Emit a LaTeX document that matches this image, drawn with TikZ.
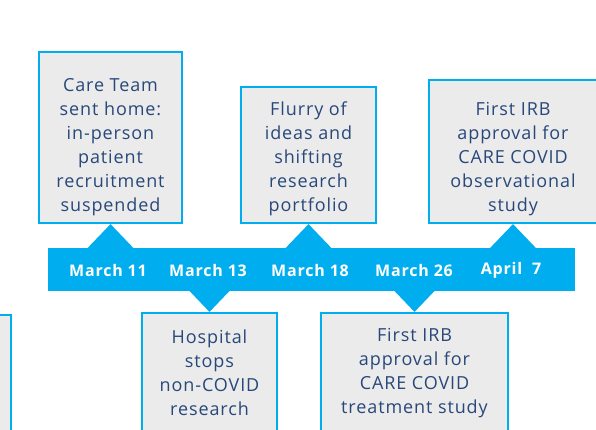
\documentclass[tikz,border=0pt]{standalone}
\usepackage{fontspec}
\setmainfont{Open Sans}[LetterSpace=5]
\usetikzlibrary{positioning}
\definecolor{CvCyan}{RGB}{0,174,239}
\definecolor{CvGray}{RGB}{235,235,235}
\definecolor{CvNavy}{RGB}{40,72,122}
\tikzset{
  cv/box/.style={
    draw=CvCyan,
    line width=2.2pt,
    fill=CvGray,
    inner sep=0pt
  },
  cv/text/.style={
    align=center,
    text=CvNavy,
    inner sep=0pt,
    font=\fontsize{18}{24}\selectfont
  },
  cv/band/.style={fill=CvCyan, inner sep=0pt},
  cv/date/.style={font=\fontsize{16}{20}\selectfont\bfseries, text=white},
  cv/pointer/.style={fill=CvCyan}
}
\begin{document}
\begin{tikzpicture}[x=1pt,y=-1pt]
  \useasboundingbox (0,0) rectangle (596,429);
  % events above the timeline
  \node[cv/box,minimum width=143pt,minimum height=171pt] (care) at (110.5,137.5) {};
  \node[cv/box,minimum width=135pt,minimum height=136pt] (flurry) at (308.5,155) {};
  \node[cv/box,minimum width=168pt,minimum height=143pt] (obs) at (513,151.5) {};
  \node[cv/text] (careTxt) at ([yshift=-10pt]care.center)
    {Care Team\\sent home:\\in-person\\patient\\recruitment\\suspended};
  \node[cv/text] (flurryTxt) at ([yshift=-4pt]flurry.center)
    {Flurry of\\ideas and\\shifting\\research\\portfolio};
  \node[cv/text] (obsTxt) at ([yshift=-8pt]obs.center)
    {First IRB\\approval for\\CARE COVID\\observational\\study};
  % events below the timeline
  \node[cv/box,minimum width=161pt,minimum height=130pt] (prev) at (-69.5,380) {};
  \node[cv/box,minimum width=135pt,minimum height=120pt] (hosp) at (209.5,373) {};
  \node[cv/box,minimum width=187pt,minimum height=120pt] (treat) at (414.5,373) {};
  \node[cv/text] (hospTxt) at (hosp.center)
    {Hospital\\stops\\non-COVID\\research};
  \node[cv/text] (treatTxt) at (treat.center)
    {First IRB\\approval for\\CARE COVID\\treatment study};
  % timeline
  \node[cv/band,minimum width=527pt,minimum height=43pt] (band) at (311.5,269.5) {};
  \fill[cv/pointer] (care.south) -- ++(23,24) -- ++(-46,0) -- cycle;
  \fill[cv/pointer] (flurry.south) -- ++(23,24) -- ++(-46,0) -- cycle;
  \fill[cv/pointer] (obs.south) -- ++(23,24) -- ++(-46,0) -- cycle;
  \fill[cv/pointer] (hosp.north) -- ++(22,-23) -- ++(-44,0) -- cycle;
  \fill[cv/pointer] (treat.north) -- ++(22,-23) -- ++(-44,0) -- cycle;
  \node[cv/date] (d1) at (108,270) {March 11};
  \node[cv/date] (d2) at (208,270) {March 13};
  \node[cv/date] (d3) at (310,270) {March 18};
  \node[cv/date] (d4) at (414,270) {March 26};
  \node[cv/date] (d5) at (511,270) {April~~7};
\end{tikzpicture}
\end{document}
